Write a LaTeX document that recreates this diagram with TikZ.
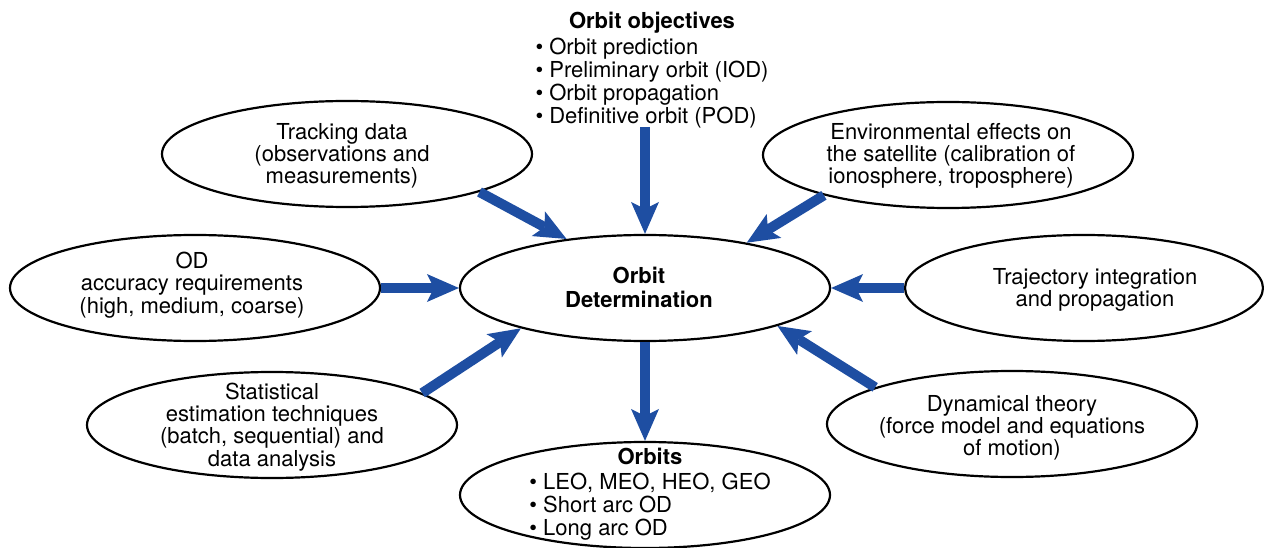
\documentclass[tikz,border=0pt]{standalone}
\usepackage{fontspec}
\setmainfont{TeX Gyre Heros}
\usetikzlibrary{arrows.meta,shapes.geometric}
\definecolor{arrowblue}{RGB}{30,78,162}
\tikzset{
  ell/.style={ellipse, draw=black, line width=2.2pt, fill=white,
    minimum width=370pt, minimum height=106pt, inner sep=0pt},
  txt/.style={align=center, inner sep=0pt, font=\fontsize{22}{22.3}\selectfont},
  bigarrow/.style={draw=arrowblue, line width=10pt,
    -{Stealth[length=32pt,width=28pt,inset=7pt,line width=0pt,fill=arrowblue]}},
}
\begin{document}
\begin{tikzpicture}[x=1pt,y=-1pt]
\useasboundingbox[fill=white] (0,0) rectangle (1264,548);

% ellipses
\node[ell] (trk)  at (347,154) {};
\node[ell] (oda)  at (195,288) {};
\node[ell] (stat) at (272,425) {};
\node[ell] (od)   at (645,288) {};
\node[ell] (orb)  at (645,495) {};
\node[ell] (env)  at (948,155) {};
\node[ell, minimum width=358pt] (traj) at (1084,288) {};
\node[ell] (dyn)  at (1012,424) {};

% texts
\node[txt] (trkT)  at (342,156) {Tracking data\\(observations and\\measurements)};
\node[txt] (odaT)  at (192,285) {OD\\accuracy requirements\\(high, medium, coarse)};
\node[txt] (statT) at (272,427) {Statistical\\estimation techniques\\(batch, sequential) and\\data analysis};
\node[txt, font=\fontsize{22}{24}\selectfont\bfseries] (odT) at (639,287) {Orbit\\Determination};
\node[txt] (envT)  at (951,156) {Environmental effects on\\the satellite (calibration of\\ionosphere, troposphere)};
\node[txt] (trajT) at (1095,290) {Trajectory integration\\and propagation};
\node[txt] (dynT)  at (1012,428) {Dynamical theory\\(force model and equations\\of motion)};

\node[txt, anchor=north] (objT) at (652,11.6) {%
  \begin{tabular}{@{}l@{}}
  \multicolumn{1}{@{}c@{}}{\bfseries Orbit objectives}\\[3pt]
  • Orbit prediction\\
  • Preliminary orbit (IOD)\\
  • Orbit propagation\\
  • Definitive orbit (POD)
  \end{tabular}};

\node[txt, anchor=north] (orbT) at (650,447.6) {%
  \begin{tabular}{@{}l@{}}
  \multicolumn{1}{@{}c@{}}{\bfseries Orbits}\\[2pt]
  • LEO, MEO, HEO, GEO\\
  • Short arc OD\\
  • Long arc OD
  \end{tabular}};

% arrows
\coordinate (objS) at (645,127);
\draw[bigarrow] (objS) -- (od.90);
\draw[bigarrow] (trk.-16) -- (od.148);
\draw[bigarrow] (env.198) -- (od.24);
\draw[bigarrow] (oda.0) -- (od.180);
\draw[bigarrow] (traj.180) -- (od.0);
\draw[bigarrow] (stat.12) -- (od.198);
\draw[bigarrow] (dyn.165) -- (od.-16);
\draw[bigarrow] (od.270) -- (orb.90);
\end{tikzpicture}
\end{document}
